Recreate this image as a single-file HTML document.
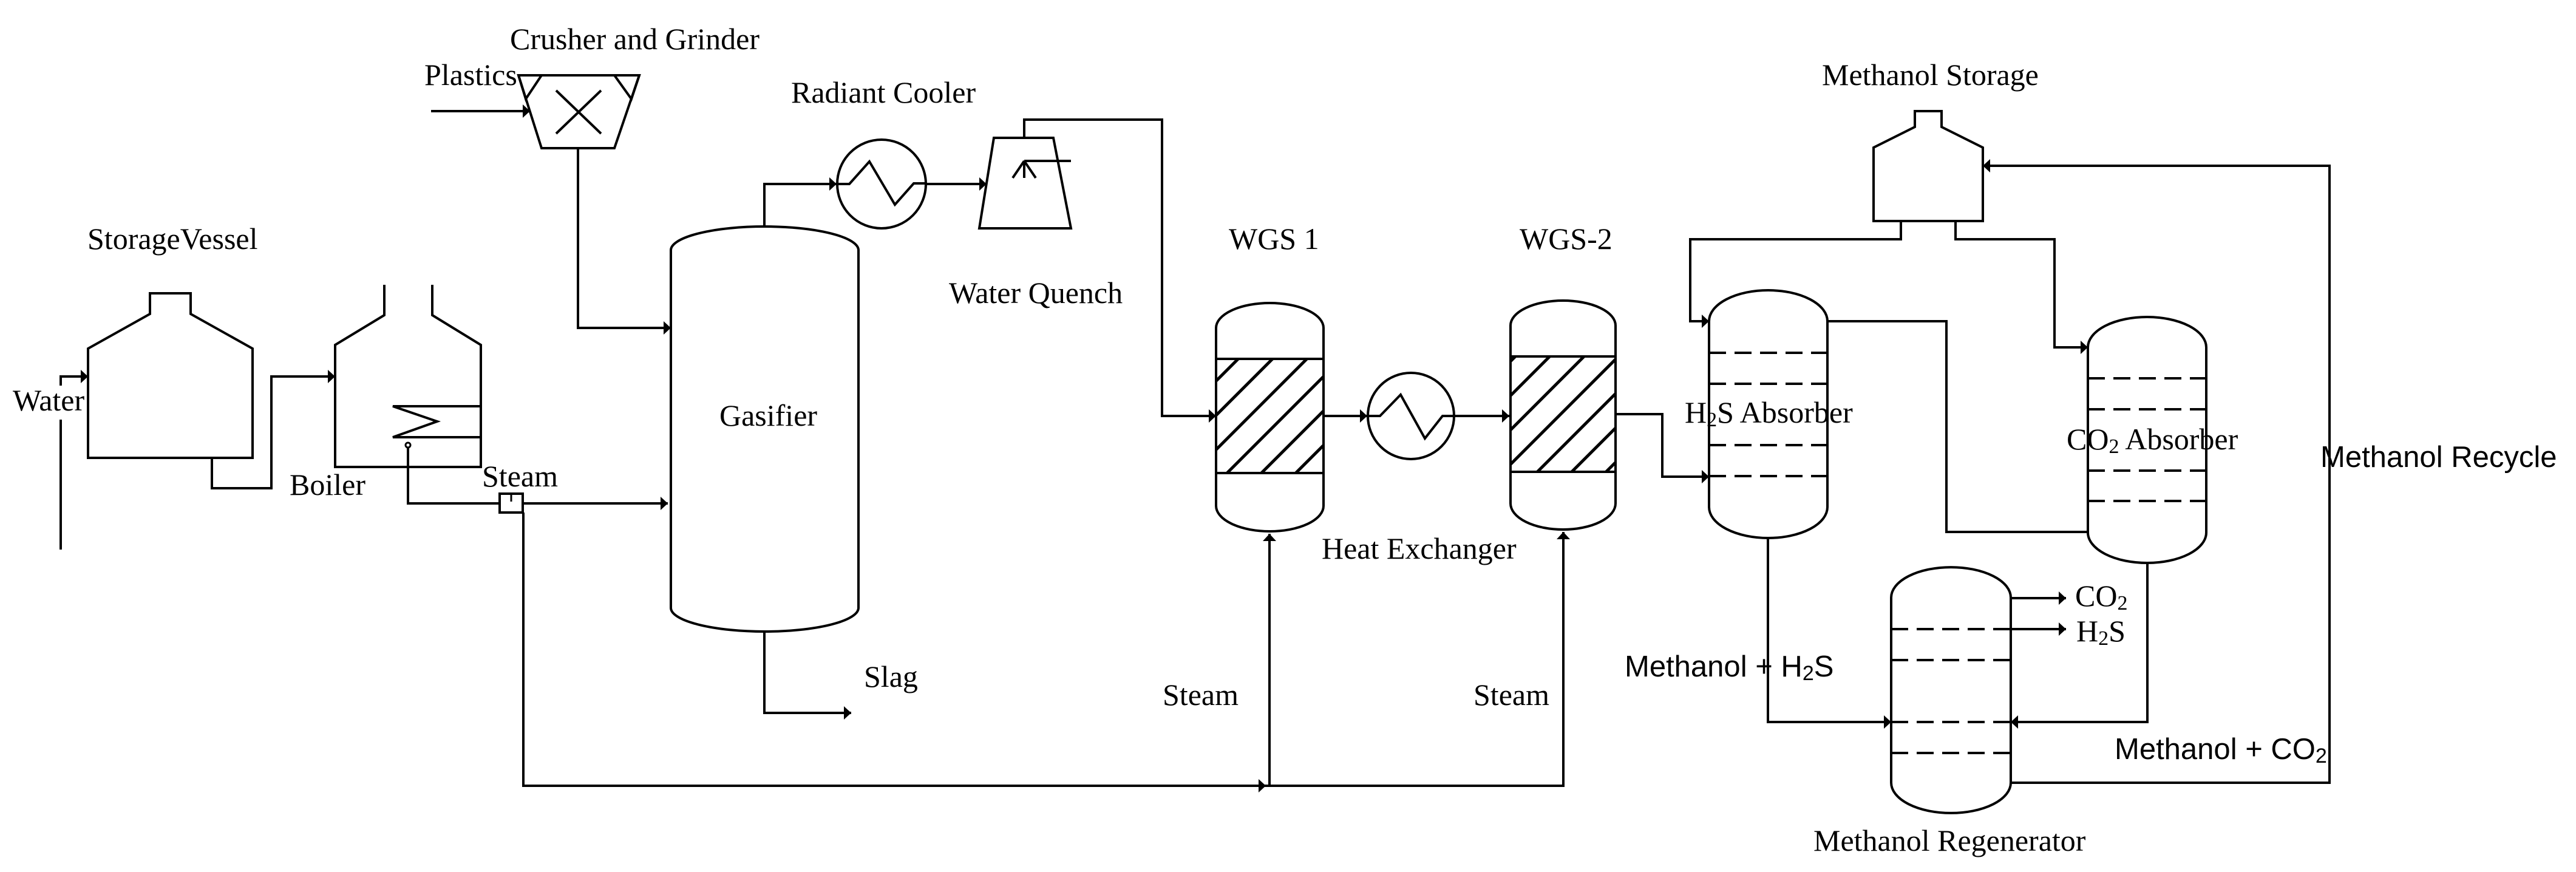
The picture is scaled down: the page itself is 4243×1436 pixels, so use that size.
<!DOCTYPE html>
<html><head><meta charset="utf-8"><style>
html,body{margin:0;padding:0;background:#fff;}
svg{display:block;}
.s{font-family:"Liberation Serif",serif;font-size:50px;fill:#000;}
.a{font-family:"Liberation Sans",sans-serif;font-size:49px;fill:#000;}
</style></head><body>
<svg width="4243" height="1436" viewBox="0 0 4243 1436" xmlns="http://www.w3.org/2000/svg">
<defs>
<marker id="ar" viewBox="0 0 12 22" refX="12" refY="11" markerWidth="12" markerHeight="22" markerUnits="userSpaceOnUse" orient="auto">
<path d="M0,0 L12,11 L0,22 Z" fill="#000"/></marker>
<pattern id="h" patternUnits="userSpaceOnUse" width="40" height="40" patternTransform="rotate(45)">
<rect width="40" height="40" fill="#fff"/><line x1="20" y1="0" x2="20" y2="40" stroke="#000" stroke-width="5"/></pattern>
</defs>
<g fill="none" stroke="#000" stroke-width="4">
<!-- storage vessel -->
<path d="M145,754 V574 L247,517 V483 H314 V517 L416,574 V754 Z"/>
<path d="M100,905 V691"/>
<path d="M100,635 V620 H145" marker-end="url(#ar)"/>
<path d="M349,754 V804 H447 V620 H552" marker-end="url(#ar)"/>
<!-- boiler -->
<path d="M633,469 V519 L552,568 V769 H792 V568 L712,519 V469"/>
<path d="M792,669 H647 L720,694 L647,720 H792"/>
<circle cx="672" cy="733" r="4" stroke-width="3"/>
<path d="M672,737 V829 H823"/>
<rect x="823" y="813" width="38" height="31"/>
<path d="M842,815 V826" stroke-width="3"/>
<path d="M861,829 H1100" marker-end="url(#ar)"/>
<path d="M862,844 V1294 H2085" marker-end="url(#ar)"/>
<path d="M2085,1294 H2575 V876" marker-end="url(#ar)"/>
<path d="M2091,1294 V879" marker-end="url(#ar)"/>
<!-- crusher -->
<path d="M854,124 H1053 L1012,244 H892 Z"/>
<path d="M854,124 L866,163 L892,124 M1012,124 L1040,163 L1053,124"/>
<path d="M916,149 L990,220 M990,149 L916,220"/>
<path d="M710,183 H873" marker-end="url(#ar)"/>
<path d="M952,244 V540 H1105" marker-end="url(#ar)"/>
<!-- gasifier -->
<path d="M1105,412 A154.5,39 0 0 1 1414,412 V1001 A154.5,39 0 0 1 1105,1001 Z"/>
<path d="M1259,373 V303 H1378" marker-end="url(#ar)"/>
<path d="M1259,1040 V1174 H1402" marker-end="url(#ar)"/>
<!-- radiant cooler -->
<circle cx="1452" cy="303" r="73"/>
<path d="M1378,303 H1399 L1432,266 L1474,337 L1505,302 H1525"/>
<path d="M1525,303 H1625" marker-end="url(#ar)"/>
<!-- quench -->
<path d="M1637,227 H1735 L1764,376 H1613 Z"/>
<path d="M1687,265 H1764 M1687,265 L1668,293 M1687,265 V293 M1687,265 L1706,293"/>
<path d="M1687,227 V197 H1914 V685 H2003" marker-end="url(#ar)"/>
<!-- WGS1 -->
<rect x="2003" y="591" width="177" height="188" fill="url(#h)"/>
<path d="M2003,540 A88.5,41 0 0 1 2180,540 V833 A88.5,42 0 0 1 2003,833 Z"/>
<path d="M2180,685 H2252" marker-end="url(#ar)"/>
<circle cx="2324" cy="685" r="71"/>
<path d="M2252,685 H2273 L2307,650 L2347,722 L2376,685 H2397"/>
<path d="M2397,685 H2486" marker-end="url(#ar)"/>
<!-- WGS2 -->
<rect x="2488" y="587" width="173" height="190" fill="url(#h)"/>
<path d="M2488,536 A86.5,41 0 0 1 2661,536 V829 A86.5,43 0 0 1 2488,829 Z"/>
<path d="M2661,682 H2738 V785 H2815" marker-end="url(#ar)"/>
<!-- H2S absorber -->
<path d="M2815,529 A97.5,51 0 0 1 3010,529 V835 A97.5,51 0 0 1 2815,835 Z"/>
<path d="M2815,581 H3010 M2815,632 H3010 M2815,733 H3010 M2815,784 H3010" stroke-dasharray="28,14"/>
<!-- methanol storage -->
<path d="M3086,364 V243 L3154,209 V183 H3198 V209 L3266,243 V364 Z"/>
<path d="M3131,364 V394 H2784 V529 H2815" marker-end="url(#ar)"/>
<path d="M3221,364 V394 H3384 V572 H3439" marker-end="url(#ar)"/>
<path d="M3010,529 H3206 V876 H3439"/>
<!-- CO2 absorber -->
<path d="M3439,572 A97.5,50 0 0 1 3634,572 V877 A97.5,50 0 0 1 3439,877 Z"/>
<path d="M3439,623 H3634 M3439,674 H3634 M3439,775 H3634 M3439,825 H3634" stroke-dasharray="28,14"/>
<!-- regenerator -->
<path d="M3115,984 A98.5,50 0 0 1 3312,984 V1289 A98.5,50 0 0 1 3115,1289 Z"/>
<path d="M3115,1036 H3312 M3115,1087 H3312 M3115,1189 H3312 M3115,1240 H3312" stroke-dasharray="28,14"/>
<path d="M3312,985 H3403" marker-end="url(#ar)"/>
<path d="M3312,1036 H3403" marker-end="url(#ar)"/>
<path d="M2912,886 V1189 H3115" marker-end="url(#ar)"/>
<path d="M3537,927 V1189 H3312" marker-end="url(#ar)"/>
<path d="M3312,1289 H3837 V273 H3266" marker-end="url(#ar)"/>
</g>
<g class="s">
<text x="840" y="81">Crusher and Grinder</text>
<text x="699" y="140">Plastics</text>
<text x="1303" y="169">Radiant Cooler</text>
<text x="144" y="410">StorageVessel</text>
<text x="21" y="676">Water</text>
<text x="477" y="815">Boiler</text>
<text x="794" y="801">Steam</text>
<text x="1185" y="701">Gasifier</text>
<text x="1423" y="1131">Slag</text>
<text x="1563" y="499">Water Quench</text>
<text x="2024" y="410">WGS 1</text>
<text x="2503" y="410">WGS-2</text>
<text x="2177" y="920">Heat Exchanger</text>
<text x="1915" y="1161">Steam</text>
<text x="2427" y="1161">Steam</text>
<text x="3001" y="140">Methanol Storage</text>
<text x="2775" y="696">H<tspan font-size="34" dy="6">2</tspan><tspan dy="-6">S Absorber</tspan></text>
<text x="3404" y="740">CO<tspan font-size="34" dy="6">2</tspan><tspan dy="-6"> Absorber</tspan></text>
<text x="3418" y="998">CO<tspan font-size="34" dy="6">2</tspan></text>
<text x="3420" y="1056">H<tspan font-size="34" dy="6">2</tspan><tspan dy="-6">S</tspan></text>
<text x="2987" y="1401">Methanol Regenerator</text>
</g>
<g class="a">
<text x="2676" y="1114">Methanol + H<tspan font-size="34" dy="6">2</tspan><tspan dy="-6">S</tspan></text>
<text x="3822" y="769">Methanol Recycle</text>
<text x="3483" y="1250">Methanol + CO<tspan font-size="34" dy="6">2</tspan></text>
</g>
</svg>
</body></html>
